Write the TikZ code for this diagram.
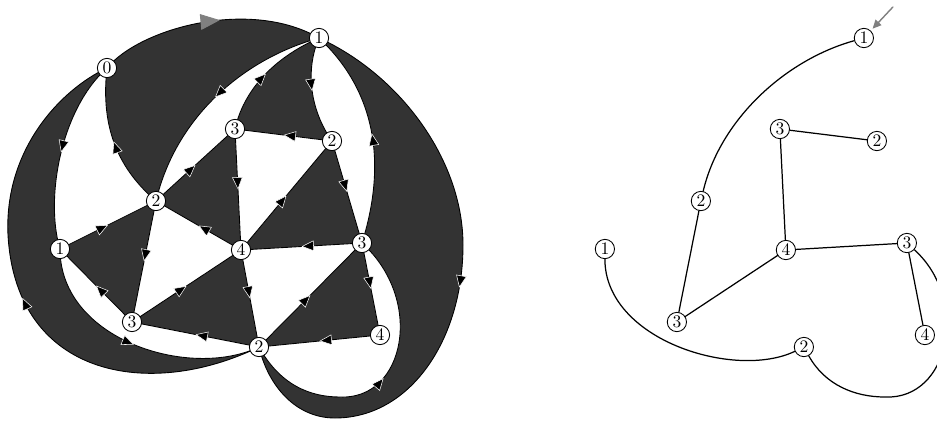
\documentclass[tikz,border=0pt]{standalone}
\usepackage{tikz}
\usetikzlibrary{arrows.meta,decorations.markings,backgrounds}

\begin{document}
\begin{tikzpicture}[x=0.02cm,y=-0.02cm,line cap=round,
  vtx/.style={circle,draw,fill=white,inner sep=1pt,line width=0.5pt},
  face/.style={fill=black!80},
  hole/.style={fill=white},
  oedge/.style={line width=0.5pt,postaction={decorate},decoration={markings,mark=at position 0.5 with {\arrow{Triangle[length=7pt,width=6pt,fill=black,color=white,line width=0.3pt]}}}},
  rootedge/.style={line width=0.5pt,postaction={decorate},decoration={markings,mark=at position 0.55 with {\arrow{Triangle[length=11pt,width=9pt,fill=gray,color=gray]}}}},
  tedge/.style={line width=0.7pt}]
\useasboundingbox (0,0) rectangle (937,420);
\clip (0,0) rectangle (937,420);

\node[vtx] (L0) at (107,68) {$0$};
\node[vtx] (L1t) at (319,38) {$1$};
\node[vtx] (L3t) at (235,129) {$3$};
\node[vtx] (L2r) at (332,141) {$2$};
\node[vtx] (L2l) at (156,201) {$2$};
\node[vtx] (L1l) at (60,249) {$1$};
\node[vtx] (L4m) at (241,250) {$4$};
\node[vtx] (L3r) at (362,243) {$3$};
\node[vtx] (L3l) at (132,322) {$3$};
\node[vtx] (L2b) at (259,347) {$2$};
\node[vtx] (L4r) at (380,335) {$4$};

\begin{pgfonlayer}{background}
\fill[face] (L0.center) .. controls (140,28) and (250,-2) .. (L1t.center) .. controls (400,75) and (463,160) .. (463,245) .. controls (463,340) and (410,418) .. (335,418) .. controls (295,418) and (268,385) .. (L2b.center) .. controls (150,400) and (16,378) .. (8,235) .. controls (4,150) and (60,90) .. (L0.center) -- cycle;
\fill[hole] (L1t.center) .. controls (240,60) and (175,120) .. (L2l.center) -- (L3t.center) .. controls (245,85) and (280,55) .. (L1t.center) -- cycle;
\fill[hole] (L1t.center) .. controls (305,70) and (310,110) .. (L2r.center) -- (L3r.center) .. controls (385,170) and (380,95) .. (L1t.center) -- cycle;
\fill[hole] (L3r.center) -- (L4r.center) -- (L2b.center) .. controls (280,385) and (310,397) .. (340,397) .. controls (405,400) and (425,300) .. (L3r.center) -- cycle;
\fill[hole] (L4m.center) -- (L3r.center) -- (L2b.center) -- cycle;
\fill[hole] (L3t.center) -- (L2r.center) -- (L4m.center) -- cycle;
\fill[hole] (L2l.center) -- (L4m.center) -- (L3l.center) -- cycle;
\fill[hole] (L1l.center) -- (L3l.center) -- (L2b.center) .. controls (190,380) and (60,340) .. (L1l.center) -- cycle;
\fill[hole] (L0.center) .. controls (60,110) and (45,200) .. (L1l.center) -- (L2l.center) .. controls (120,170) and (100,130) .. (L0.center) -- cycle;

\draw[rootedge] (L0.center) .. controls (140,28) and (250,-2) .. (L1t.center);
\draw[oedge] (L2b.center) .. controls (150,400) and (16,378) .. (8,235) .. controls (4,150) and (60,90) .. (L0.center);
\draw[oedge] (L0.center) .. controls (60,110) and (45,200) .. (L1l.center);
\draw[oedge] (L2l.center) .. controls (120,170) and (100,130) .. (L0.center);
\draw[oedge] (L1t.center) .. controls (240,60) and (175,120) .. (L2l.center);
\draw[oedge] (L3t.center) .. controls (245,85) and (280,55) .. (L1t.center);
\draw[oedge] (L1t.center) .. controls (305,70) and (310,110) .. (L2r.center);
\draw[oedge] (L3r.center) .. controls (385,170) and (380,95) .. (L1t.center);
\draw[oedge] (L1t.center) .. controls (400,75) and (463,160) .. (463,245) .. controls (463,340) and (410,418) .. (335,418) .. controls (295,418) and (268,385) .. (L2b.center);
\draw[oedge] (L2r.center) -- (L3t.center);
\draw[oedge] (L2l.center) -- (L3t.center);
\draw[oedge] (L3t.center) -- (L4m.center);
\draw[oedge] (L4m.center) -- (L2r.center);
\draw[oedge] (L2r.center) -- (L3r.center);
\draw[oedge] (L1l.center) -- (L2l.center);
\draw[oedge] (L4m.center) -- (L2l.center);
\draw[oedge] (L2l.center) -- (L3l.center);
\draw[oedge] (L3l.center) -- (L1l.center);
\draw[oedge] (L1l.center) .. controls (60,340) and (190,380) .. (L2b.center);
\draw[oedge] (L3l.center) -- (L4m.center);
\draw[oedge] (L3r.center) -- (L4m.center);
\draw[oedge] (L4m.center) -- (L2b.center);
\draw[oedge] (L2b.center) -- (L3l.center);
\draw[oedge] (L2b.center) -- (L3r.center);
\draw[oedge] (L4r.center) -- (L2b.center);
\draw[oedge] (L3r.center) -- (L4r.center);
\draw[oedge] (L2b.center) .. controls (280,385) and (310,397) .. (340,397) .. controls (405,400) and (425,300) .. (L3r.center);
\end{pgfonlayer}

\begin{scope}[xshift=10.9cm]
\node[vtx] (R1t) at (319,38) {$1$};
\node[vtx] (R3t) at (235,129) {$3$};
\node[vtx] (R2r) at (332,141) {$2$};
\node[vtx] (R2l) at (156,201) {$2$};
\node[vtx] (R1l) at (60,249) {$1$};
\node[vtx] (R4m) at (241,250) {$4$};
\node[vtx] (R3r) at (362,243) {$3$};
\node[vtx] (R3l) at (132,322) {$3$};
\node[vtx] (R2b) at (259,347) {$2$};
\node[vtx] (R4r) at (380,335) {$4$};
\coordinate (Rin) at (348,7);
\draw[tedge] (R1t) .. controls (240,60) and (175,120) .. (R2l);
\draw[tedge] (R2l) -- (R3l);
\draw[tedge] (R3l) -- (R4m);
\draw[tedge] (R4m) -- (R3t);
\draw[tedge] (R3t) -- (R2r);
\draw[tedge] (R4m) -- (R3r);
\draw[tedge] (R3r) -- (R4r);
\draw[tedge] (R3r) .. controls (425,300) and (405,400) .. (340,397) .. controls (310,397) and (280,385) .. (R2b);
\draw[tedge] (R2b) .. controls (190,380) and (60,340) .. (R1l);
\draw[gray,line width=0.8pt,-{Triangle[length=5pt,width=4.5pt]},shorten >=1.5pt] (Rin) -- (R1t);
\end{scope}
\end{tikzpicture}
\end{document}
